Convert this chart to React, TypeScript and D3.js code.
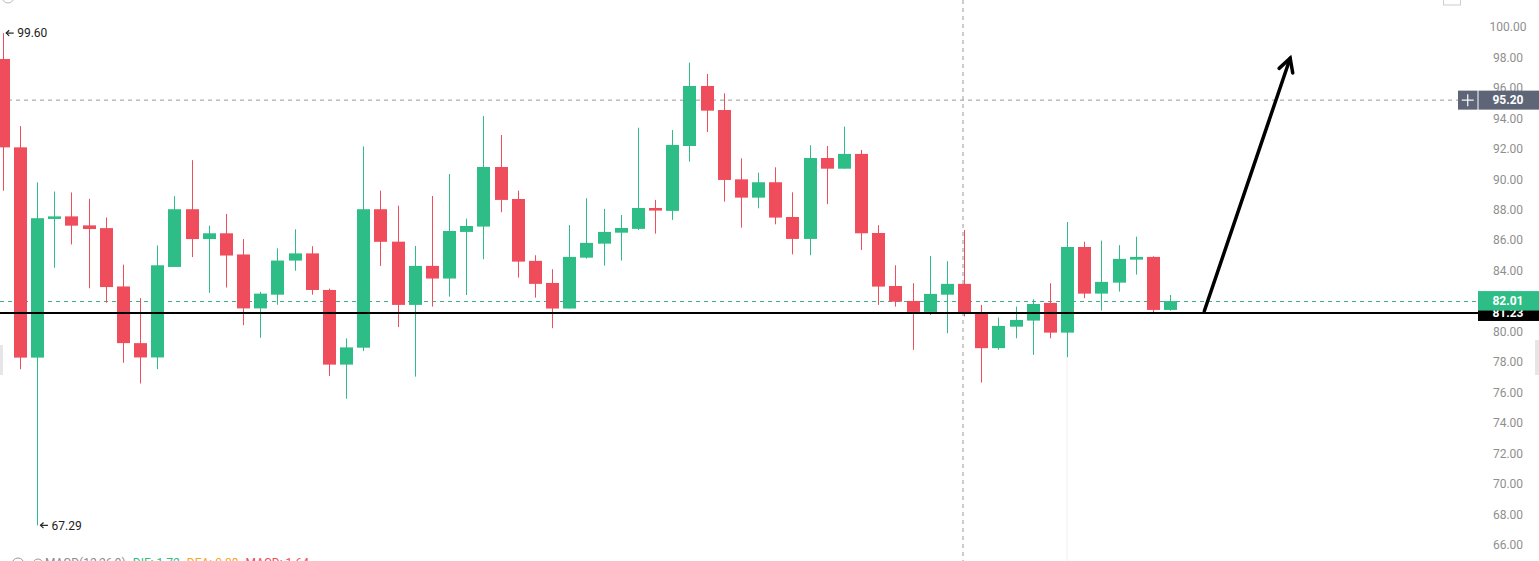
import React from "react";
import * as d3 from "d3";

const opens = [97.9, 92.1, 78.3, 87.4, 87.57, 86.98, 86.8, 82.97, 79.25, 78.31, 84.25, 88.04, 86.08, 86.46, 85.07, 81.53, 82.43, 84.67, 85.14, 82.74, 77.84, 78.95, 88.04, 85.91, 81.76, 84.32, 83.49, 86.55, 86.9, 90.81, 88.71, 84.65, 83.2, 81.52, 84.86, 85.78, 86.5, 86.75, 88.12, 87.93, 92.19, 96.13, 94.55, 90.0, 88.8, 89.81, 87.53, 86.09, 91.4, 90.7, 91.67, 86.48, 83.0, 82.02, 81.3, 82.43, 83.14, 81.17, 78.92, 80.33, 80.73, 81.89, 79.94, 85.56, 82.5, 83.22, 84.73, 84.91, 81.43];
const highs = [99.6, 93.5, 89.8, 89.2, 89.14, 88.72, 87.5, 84.4, 82.2, 85.66, 88.9, 91.26, 86.96, 87.73, 86.08, 82.62, 85.47, 86.72, 85.61, 82.83, 79.56, 92.16, 89.26, 88.27, 85.63, 88.91, 90.35, 87.42, 94.16, 92.91, 89.26, 85.02, 84.1, 87.0, 88.76, 88.06, 87.66, 93.39, 88.65, 93.24, 97.66, 96.92, 95.65, 91.38, 90.44, 90.79, 89.15, 92.24, 92.19, 93.46, 91.93, 86.99, 84.36, 83.18, 84.97, 84.63, 86.68, 81.76, 80.93, 81.65, 82.13, 83.18, 87.2, 85.91, 85.98, 85.68, 86.24, 84.95, 82.41];
const lows = [89.25, 77.54, 67.29, 84.2, 85.73, 82.85, 81.9, 77.96, 76.6, 77.54, 84.25, 84.9, 82.55, 82.9, 80.43, 79.6, 81.77, 84.0, 82.43, 77.09, 75.6, 78.73, 84.32, 80.3, 77.05, 81.65, 82.3, 82.41, 84.76, 87.84, 83.55, 82.24, 80.23, 81.52, 84.8, 84.34, 84.67, 86.68, 86.44, 87.34, 91.16, 93.11, 88.54, 86.83, 88.1, 87.05, 85.08, 85.02, 88.37, 90.7, 85.37, 81.76, 81.65, 78.81, 81.1, 79.9, 81.0, 76.66, 78.81, 79.57, 78.48, 79.57, 78.33, 82.2, 81.38, 82.63, 83.75, 81.21, 81.38];
const closes = [92.1, 78.3, 87.45, 87.57, 86.96, 86.74, 82.93, 79.25, 78.31, 84.36, 88.04, 86.08, 86.46, 85.0, 81.53, 82.5, 84.67, 85.14, 82.74, 77.84, 78.97, 88.04, 85.9, 81.76, 84.32, 83.49, 86.61, 86.94, 90.81, 88.65, 84.6, 83.14, 81.52, 84.91, 85.83, 86.55, 86.81, 88.12, 87.95, 92.26, 96.13, 94.51, 89.96, 88.8, 89.81, 87.49, 86.09, 91.4, 90.7, 91.67, 86.46, 82.96, 81.97, 81.3, 82.48, 83.14, 81.17, 78.92, 80.38, 80.77, 81.82, 79.94, 85.56, 82.5, 83.27, 84.78, 84.91, 81.43, 82.01];

const yTicks = [100, 98, 96, 94, 92, 90, 88, 86, 84, 82, 80, 78, 76, 74, 72, 70, 68, 66];
const hiMark = { index: 0, value: 99.6, label: "99.60" };
const loMark = { index: 2, value: 67.29, label: "67.29" };
const alertLevel = 95.2;
const lastPrice = 82.01;
const supportLevel = 81.23;
const crosshairIndex = 56;
const arrowFrom = [70, 81.36];
const arrowTo = [75, 97.95];
const macdTexts = [
  { text: "MACD(12,26,9)", color: "#8c8c8c" },
  { text: "DIF: 1.72", color: "#2ebd86" },
  { text: "DEA: 0.08", color: "#f5a623" },
  { text: "MACD: 1.64", color: "#ef4d5b" },
];

const W = 1539;
const H = 561;
const UP = "#2ebd86";
const DOWN = "#ef4d5b";
const FONT = "Roboto, Arial, sans-serif";

function measure(text: string, size: number): number {
  try {
    const c = document.createElement("canvas");
    const ctx = c.getContext("2d");
    if (ctx) {
      ctx.font = `${size}px Roboto, Arial, sans-serif`;
      return ctx.measureText(text).width;
    }
  } catch (e) {}
  return text.length * size * 0.55;
}

function MarkerLabel({ x, y, label }: { x: number; y: number; label: string }) {
  return (
    <g>
      <line x1={x + 3.5} x2={x + 11} y1={y} y2={y} stroke="#222" strokeWidth={1.2} />
      <path d={`M${x + 6.5},${y - 2.8} L${x + 3.5},${y} L${x + 6.5},${y + 2.8}`} fill="none" stroke="#222" strokeWidth={1.2} />
      <text x={x + 14.5} y={y} dy="0.35em" fontSize={12} fill="#222">
        {label}
      </text>
    </g>
  );
}

export default function App() {
  const x = d3.scaleLinear().domain([0, 68]).range([2.7, 1170]);
  const y = d3.scaleLinear().domain([66, 100]).range([545, 27]);
  const bodyW = 13;
  const axisX = 1508;
  const plotRight = 1478;

  const ax1 = x(arrowFrom[0]), ay1 = y(arrowFrom[1]);
  const ax2 = x(arrowTo[0]), ay2 = y(arrowTo[1]);
  const ang = Math.atan2(ay2 - ay1, ax2 - ax1);
  const headLen = 15;
  const spread = 0.5;
  const head = d3.line()([
    [ax2 - headLen * Math.cos(ang - spread), ay2 - headLen * Math.sin(ang - spread)],
    [ax2, ay2],
    [ax2 - headLen * Math.cos(ang + spread), ay2 - headLen * Math.sin(ang + spread)],
  ]);

  let macdX = 45;
  const macdPos = macdTexts.map((t) => {
    const p = macdX;
    macdX += measure(t.text, 12) + 7;
    return p;
  });

  return (
    <div style={{ position: "absolute", left: 0, top: 0, width: W, height: H, overflow: "hidden", background: "#fff" }}>
      <svg width={W} height={H} style={{ display: "block", fontFamily: FONT }}>
        <rect width={W} height={H} fill="#fff" />
        <rect x={0} y={345} width={3} height={30} fill="#e6e6e6" />
        <rect x={1535} y={340} width={4} height={35} fill="#e6e6e6" />
        <rect x={1443.5} y={-6} width={17} height={11} fill="none" stroke="#ccc" strokeWidth={1} />
        <circle cx={8} cy={-3} r={6} fill="none" stroke="#bbb" />
        <line x1={x(62)} x2={x(62)} y1={330} y2={H} stroke="#f0f0f0" strokeWidth={1} />
        <line x1={x(crosshairIndex) - 1} x2={x(crosshairIndex) - 1} y1={0} y2={H} stroke="#9a9a9a" strokeWidth={1} strokeDasharray="4,4" />
        <line x1={0} x2={1458} y1={y(alertLevel)} y2={y(alertLevel)} stroke="#9a9a9a" strokeWidth={1} strokeDasharray="4,4" />
        <line x1={0} x2={plotRight} y1={Math.round(y(lastPrice)) + 0.5} y2={Math.round(y(lastPrice)) + 0.5} stroke="#3fae8a" strokeWidth={1} strokeDasharray="4,4" />
        {opens.map((o, i) => {
          const c = closes[i];
          const up = c >= o;
          const col = up ? UP : DOWN;
          const cx = Math.round(x(i)) + 0.5;
          const top = y(Math.max(o, c));
          const bot = y(Math.min(o, c));
          return (
            <g key={i}>
              <line x1={cx} x2={cx} y1={y(highs[i])} y2={y(lows[i])} stroke={col} strokeWidth={1} />
              <rect x={cx - bodyW / 2} y={top} width={bodyW} height={Math.max(bot - top, 1.5)} fill={col} />
            </g>
          );
        })}
        <line x1={0} x2={plotRight} y1={y(supportLevel)} y2={y(supportLevel)} stroke="#000" strokeWidth={2} />
        <line x1={ax1} y1={ay1} x2={ax2} y2={ay2} stroke="#000" strokeWidth={3.5} strokeLinecap="round" />
        <path d={head || ""} fill="none" stroke="#000" strokeWidth={3.5} strokeLinecap="round" strokeLinejoin="miter" />
        <MarkerLabel x={x(hiMark.index)} y={y(hiMark.value)} label={hiMark.label} />
        <MarkerLabel x={x(loMark.index)} y={y(loMark.value)} label={loMark.label} />
        {yTicks.map((t) => (
          <text key={t} x={axisX} y={y(t)} dy="0.35em" textAnchor="middle" fontSize={12} fill="#8f8f8f">
            {t.toFixed(2)}
          </text>
        ))}
        <rect x={1458} y={y(alertLevel) - 9.5} width={19.5} height={19} fill="#5d6577" />
        <line x1={1467.75} x2={1467.75} y1={y(alertLevel) - 6} y2={y(alertLevel) + 6} stroke="#fff" strokeWidth={1.2} />
        <line x1={1461.75} x2={1473.75} y1={y(alertLevel)} y2={y(alertLevel)} stroke="#fff" strokeWidth={1.2} />
        <rect x={1478.5} y={y(alertLevel) - 9.5} width={61} height={19} fill="#5d6577" />
        <text x={axisX} y={y(alertLevel)} dy="0.36em" textAnchor="middle" fontSize={12} fontWeight="bold" fill="#fff">
          {alertLevel.toFixed(2)}
        </text>
        <rect x={plotRight} y={y(supportLevel) - 10} width={61} height={18} fill="#000" />
        <text x={axisX} y={y(supportLevel)} dy="0.3em" textAnchor="middle" fontSize={12} fontWeight="bold" fill="#fff">
          {supportLevel.toFixed(2)}
        </text>
        <rect x={plotRight} y={y(lastPrice) - 10} width={61} height={19.5} fill={UP} />
        <text x={axisX} y={y(lastPrice)} dy="0.36em" textAnchor="middle" fontSize={12} fontWeight="bold" fill="#fff">
          {lastPrice.toFixed(2)}
        </text>
        <circle cx={18} cy={564} r={6} fill="none" stroke="#999" strokeWidth={1} />
        <circle cx={38} cy={564} r={5} fill="none" stroke="#999" strokeWidth={1} />
        {macdTexts.map((t, i) => (
          <text key={i} x={macdPos[i]} y={567} fontSize={12} fill={t.color}>
            {t.text}
          </text>
        ))}
      </svg>
    </div>
  );
}
